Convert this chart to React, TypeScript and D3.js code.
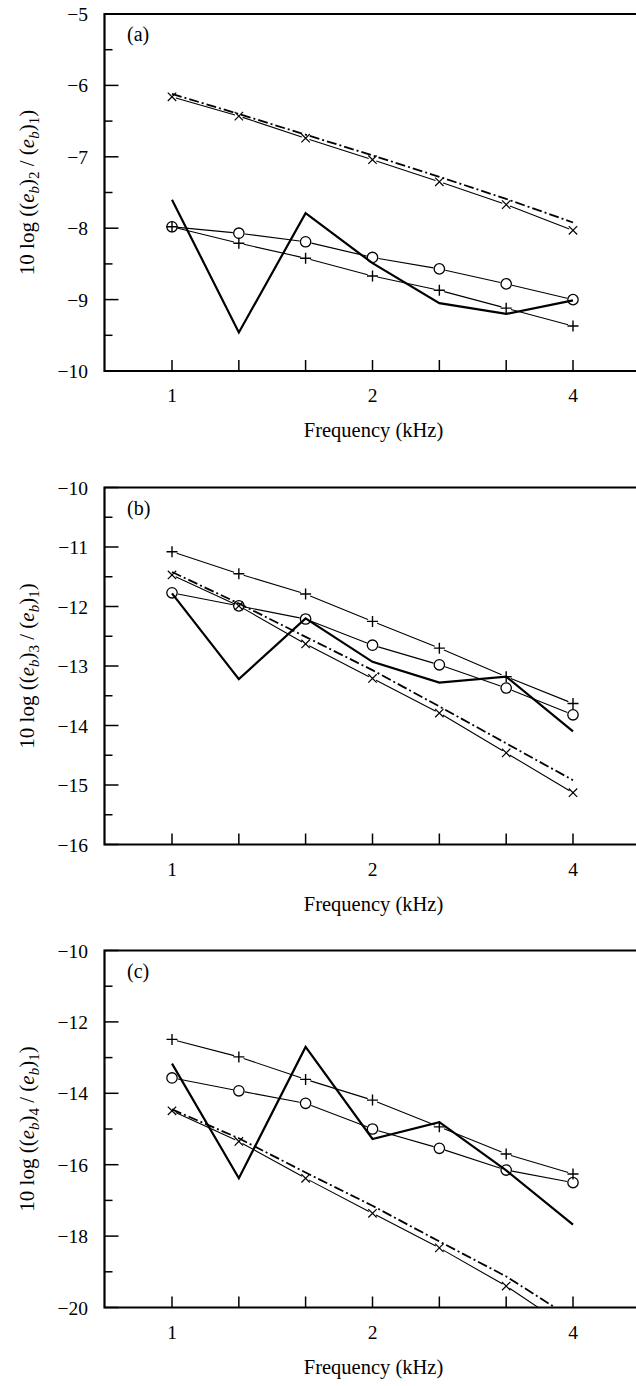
import React from 'react';
import * as d3 from 'd3';

// Third-octave band centre frequencies (kHz)
const FREQ = [1, 1.26, 1.587, 2, 2.52, 3.175, 4];
const X_TICK_LABELS = [1, 2, 4];

// Panel (a): 10 log((e_b)_2/(e_b)_1)
const A_CROSS = [-6.16, -6.43, -6.74, -7.04, -7.35, -7.67, -8.03];
const A_DASHDOT = [-6.12, -6.40, -6.69, -6.98, -7.28, -7.59, -7.92];
const A_CIRCLE = [-7.98, -8.07, -8.19, -8.41, -8.57, -8.78, -9.0];
const A_PLUS = [-7.98, -8.21, -8.42, -8.67, -8.87, -9.12, -9.37];
const A_THICK = [-7.6, -9.46, -7.79, -8.49, -9.05, -9.2, -9.01];
const A_YTICKS = [-5, -6, -7, -8, -9, -10];
const A_YMINOR = [-5.5, -6.5, -7.5, -8.5, -9.5];

// Panel (b): 10 log((e_b)_3/(e_b)_1)
const B_CROSS = [-11.47, -11.99, -12.63, -13.21, -13.79, -14.46, -15.13];
const B_DASHDOT = [-11.42, -11.95, -12.51, -13.07, -13.68, -14.3, -14.92];
const B_CIRCLE = [-11.77, -11.99, -12.21, -12.65, -12.98, -13.37, -13.82];
const B_PLUS = [-11.08, -11.45, -11.79, -12.25, -12.7, -13.18, -13.63];
const B_THICK = [-11.78, -13.22, -12.2, -12.93, -13.28, -13.18, -14.1];
const B_YTICKS = [-10, -11, -12, -13, -14, -15, -16];
const B_YMINOR = [-10.5, -11.5, -12.5, -13.5, -14.5, -15.5];

// Panel (c): 10 log((e_b)_4/(e_b)_1)
const C_CROSS = [-14.49, -15.35, -16.38, -17.36, -18.33, -19.4, -20.65];
const C_DASHDOT = [-14.45, -15.26, -16.22, -17.15, -18.15, -19.13, -20.32];
const C_CIRCLE = [-13.57, -13.93, -14.28, -15.0, -15.54, -16.15, -16.5];
const C_PLUS = [-12.49, -12.98, -13.61, -14.19, -14.94, -15.7, -16.26];
const C_THICK = [-13.17, -16.38, -12.7, -15.28, -14.81, -16.16, -17.68];
const C_YTICKS = [-10, -12, -14, -16, -18, -20];
const C_YMINOR = [-11, -13, -15, -17, -19];

const FONT = '"Liberation Serif", "DejaVu Serif", serif';

const xScale = d3.scaleLog().domain([1, 4]).range([172, 573]);
const X_LEFT = 104.5;
const X_RIGHT = 660;
const H = 357;

type PanelProps = {
  id: string;
  top: number;
  domain: [number, number];
  majors: number[];
  minors: number[];
  label: string;
  sub: string;
  cross: number[];
  dashdot: number[];
  circle: number[];
  plus: number[];
  thick: number[];
};

function gappedSegments(vals: number[], y: d3.ScaleLinear<number, number>, gap: number) {
  const pts = vals.map((v, i) => [xScale(FREQ[i]), y(v)] as [number, number]);
  const segs: string[] = [];
  for (let i = 0; i < pts.length - 1; i++) {
    const [x0, y0] = pts[i];
    const [x1, y1] = pts[i + 1];
    const L = Math.hypot(x1 - x0, y1 - y0);
    const ux = (x1 - x0) / L;
    const uy = (y1 - y0) / L;
    segs.push(`M${x0 + ux * gap},${y0 + uy * gap}L${x1 - ux * gap},${y1 - uy * gap}`);
  }
  return segs.join('');
}

function Panel(p: PanelProps) {
  const y = d3.scaleLinear().domain(p.domain).range([p.top, p.top + H]);
  const bottom = p.top + H;
  const line = d3
    .line<number>()
    .x((_, i) => xScale(FREQ[i]))
    .y((v) => y(v));
  const fmt = (v: number) => (v < 0 ? '\u2212' + Math.abs(v) : String(v));
  const clipId = 'clip-' + p.id;
  const cy = p.top + H / 2;
  return (
    <g>
      <defs>
        <clipPath id={clipId}>
          <rect x={X_LEFT} y={p.top} width={X_RIGHT - X_LEFT} height={H} />
        </clipPath>
      </defs>
      <g clipPath={`url(#${clipId})`}>
        {/* dash-dot line */}
        <path d={line(p.dashdot) || ''} fill="none" stroke="#000" strokeWidth={1.8} strokeDasharray="10,3,2,3" />
        {/* thin marker lines */}
        <path d={gappedSegments(p.cross, y, 4)} fill="none" stroke="#000" strokeWidth={1.1} />
        <path d={gappedSegments(p.circle, y, 6)} fill="none" stroke="#000" strokeWidth={1.1} />
        <path d={gappedSegments(p.plus, y, 5)} fill="none" stroke="#000" strokeWidth={1.1} />
        {/* thick solid line */}
        <path d={line(p.thick) || ''} fill="none" stroke="#000" strokeWidth={2.2} strokeLinejoin="miter" />
        {/* markers */}
        {p.cross.map((v, i) => {
          const cx = xScale(FREQ[i]);
          const yy = y(v);
          const s = 4.2;
          return (
            <path key={'x' + i} d={`M${cx - s},${yy - s}L${cx + s},${yy + s}M${cx - s},${yy + s}L${cx + s},${yy - s}`} stroke="#000" strokeWidth={1.2} />
          );
        })}
        {p.circle.map((v, i) => (
          <circle key={'o' + i} cx={xScale(FREQ[i])} cy={y(v)} r={5.2} fill="none" stroke="#000" strokeWidth={1.3} />
        ))}
        {p.plus.map((v, i) => {
          const cx = xScale(FREQ[i]);
          const yy = y(v);
          const s = 5.5;
          return (
            <path key={'p' + i} d={`M${cx - s},${yy}L${cx + s},${yy}M${cx},${yy - s}L${cx},${yy + s}`} stroke="#000" strokeWidth={1.4} />
          );
        })}
      </g>
      {/* frame */}
      <path d={`M${X_RIGHT},${p.top}L${X_LEFT},${p.top}L${X_LEFT},${bottom}L${X_RIGHT},${bottom}`} fill="none" stroke="#000" strokeWidth={2.2} />
      {/* y ticks */}
      {p.majors.map((v) => (
        <g key={'ym' + v}>
          <line x1={X_LEFT} x2={X_LEFT + 14} y1={y(v)} y2={y(v)} stroke="#000" strokeWidth={1.5} />
          <text x={88} y={y(v) + 7} textAnchor="end" fontFamily={FONT} fontSize={19.5}>
            {fmt(v)}
          </text>
        </g>
      ))}
      {p.minors.map((v) => (
        <line key={'yn' + v} x1={X_LEFT} x2={X_LEFT + 8} y1={y(v)} y2={y(v)} stroke="#000" strokeWidth={1.5} />
      ))}
      {/* x ticks */}
      {FREQ.map((f) => (
        <line key={'xt' + f} x1={xScale(f)} x2={xScale(f)} y1={bottom} y2={bottom - 11} stroke="#000" strokeWidth={1.5} />
      ))}
      {X_TICK_LABELS.map((f) => (
        <text key={'xl' + f} x={xScale(f)} y={bottom + 31} textAnchor="middle" fontFamily={FONT} fontSize={19.5}>
          {f}
        </text>
      ))}
      <text x={xScale(2) + 1} y={bottom + 66} textAnchor="middle" fontFamily={FONT} fontSize={20.5}>
        Frequency (kHz)
      </text>
      {/* panel label */}
      <text x={127} y={p.top + 27} fontFamily={FONT} fontSize={20}>
        {p.label}
      </text>
      {/* y label */}
      <text transform={`translate(34,${cy}) rotate(-90)`} textAnchor="middle" fontFamily={FONT} fontSize={21}>
        <tspan>10 log ((</tspan>
        <tspan fontStyle="italic">e</tspan>
        <tspan fontStyle="italic" fontSize={15} dy={5}>b</tspan>
        <tspan dy={-5}>)</tspan>
        <tspan fontSize={15} dy={5}>{p.sub}</tspan>
        <tspan dy={-5}> / (</tspan>
        <tspan fontStyle="italic">e</tspan>
        <tspan fontStyle="italic" fontSize={15} dy={5}>b</tspan>
        <tspan dy={-5}>)</tspan>
        <tspan fontSize={15} dy={5}>1</tspan>
        <tspan dy={-5}>)</tspan>
      </text>
    </g>
  );
}

export default function App() {
  return (
    <svg
      width={636}
      height={1386}
      viewBox="0 0 636 1386"
      style={{ position: 'absolute', left: 0, top: 0, background: '#fff' }}
    >
      <rect x={0} y={0} width={636} height={1386} fill="#fff" />
      <Panel id="a" top={14} domain={[-5, -10]} majors={A_YTICKS} minors={A_YMINOR} label="(a)" sub="2"
        cross={A_CROSS} dashdot={A_DASHDOT} circle={A_CIRCLE} plus={A_PLUS} thick={A_THICK} />
      <Panel id="b" top={487.5} domain={[-10, -16]} majors={B_YTICKS} minors={B_YMINOR} label="(b)" sub="3"
        cross={B_CROSS} dashdot={B_DASHDOT} circle={B_CIRCLE} plus={B_PLUS} thick={B_THICK} />
      <Panel id="c" top={950.5} domain={[-10, -20]} majors={C_YTICKS} minors={C_YMINOR} label="(c)" sub="4"
        cross={C_CROSS} dashdot={C_DASHDOT} circle={C_CIRCLE} plus={C_PLUS} thick={C_THICK} />
    </svg>
  );
}
